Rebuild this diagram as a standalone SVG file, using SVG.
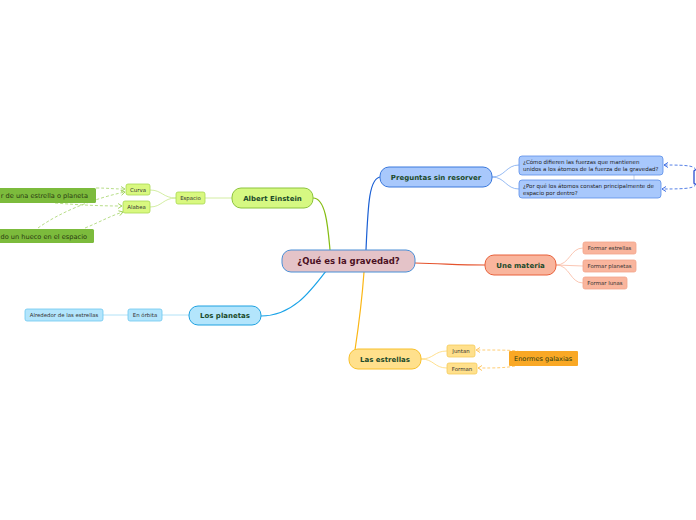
<svg xmlns="http://www.w3.org/2000/svg" width="696" height="520" viewBox="0 0 696 520">
<style>
text{font-family:"DejaVu Sans","Liberation Sans",sans-serif;}
.t1{font-size:8.5px;font-weight:bold;fill:#4a0f22;text-anchor:middle;}
.t2{font-size:7px;font-weight:bold;fill:#1b4a2a;text-anchor:middle;}
.s{font-size:5.4px;fill:#333;text-anchor:middle;}
.q{font-size:5.5px;fill:#222;}
.g{font-size:6.6px;fill:#2a3a10;}
.c{fill:none;stroke-width:1.2;}
.cl{fill:none;stroke-width:0.8;}
.d{fill:none;stroke-width:0.8;stroke-dasharray:3,2;}
</style>
<defs>
<marker id="ag" markerWidth="6" markerHeight="6" refX="5" refY="3" orient="auto" markerUnits="userSpaceOnUse"><path d="M1,0.5 L5,3 L1,5.5" fill="none" stroke="#9fd15a" stroke-width="0.9"/></marker>
<marker id="ab" markerWidth="6" markerHeight="6" refX="5" refY="3" orient="auto" markerUnits="userSpaceOnUse"><path d="M1,0.5 L5,3 L1,5.5" fill="none" stroke="#2a5fe0" stroke-width="0.9"/></marker>
<marker id="ao" markerWidth="6" markerHeight="6" refX="5" refY="3" orient="auto" markerUnits="userSpaceOnUse"><path d="M1,0.5 L5,3 L1,5.5" fill="none" stroke="#ffc050" stroke-width="0.9"/></marker>
</defs>
<rect width="696" height="520" fill="#ffffff"/>
<g id="connectors">
<path class="c" stroke="#85bd12" d="M313,198 C326,198 328,228 330,250"/>
<path class="c" stroke="#1a5fd4" d="M366,250 C368,205 369,177 381,177"/>
<path class="c" stroke="#e5532d" d="M415,263 C450,264 460,265 485,265"/>
<path class="c" stroke="#1aa3e8" d="M261,316 C292,316 310,292 326,271"/>
<path class="c" stroke="#fbb614" d="M364,272 C362,300 358,330 355,350"/>
<path class="cl" stroke="#c8e88c" d="M205,198 L232,198"/>
<path class="cl" stroke="#c8e88c" d="M176,198 C163,198 162,190 150,190"/>
<path class="cl" stroke="#c8e88c" d="M176,198 C163,198 162,207 150,207"/>
<path class="cl" stroke="#7aa8f0" d="M492,177 C505,177 506,165 519,165"/>
<path class="cl" stroke="#7aa8f0" d="M492,177 C505,177 506,189 519,189"/>
<path class="cl" stroke="#f9b8a0" d="M556,265 C570,265 570,248 583,248"/>
<path class="cl" stroke="#f9b8a0" d="M556,265 L583,266"/>
<path class="cl" stroke="#f9b8a0" d="M556,265 C570,265 570,283 583,283"/>
<path class="cl" stroke="#9fdaf5" d="M189,315 L162,315"/>
<path class="cl" stroke="#9fdaf5" d="M128,315 L103,315"/>
<path class="cl" stroke="#ffd873" d="M421,359 C434,359 434,351 447,351"/>
<path class="cl" stroke="#ffd873" d="M421,359 C434,359 434,368 447,368"/>
<path d="M634,175 L634,180" stroke="#9ab0d0" stroke-width="0.6" fill="none"/>
<path class="d" stroke="#a5d46a" marker-end="url(#ag)" d="M96,188 C108,188 112,189 125,189"/>
<path class="d" stroke="#a5d46a" marker-end="url(#ag)" d="M55,203 C80,205 100,206 122,206"/>
<path class="d" stroke="#a5d46a" marker-end="url(#ag)" d="M38,228 C60,212 95,198 125,192"/>
<path class="d" stroke="#a5d46a" marker-end="url(#ag)" d="M85,228 C100,222 110,216 123,212"/>
<path class="d" stroke="#2a5fe0" marker-end="url(#ab)" d="M696,170 C694,166 690,165 664,165"/>
<path class="d" stroke="#2a5fe0" marker-end="url(#ab)" d="M696,184 C694,188 690,189 662,189"/>
<path class="d" stroke="#ffc050" marker-end="url(#ao)" d="M520,352 C516,350 505,350 476,350"/>
<path class="d" stroke="#ffc050" marker-end="url(#ao)" d="M515,366 C505,368 495,368 478,368"/>
</g>
<g id="central"><rect x="282" y="250" width="133" height="22" rx="9" fill="#e4c3c8" stroke="#4a8fd6" stroke-width="1"/><text class="t1" x="348.5" y="264">¿Qué es la gravedad?</text></g>
<g id="einstein"><rect x="232" y="188" width="81" height="20" rx="9" fill="#d6f882" stroke="#8cc43c" stroke-width="1"/><text class="t2" x="272.5" y="200.5">Albert Einstein</text></g>
<g id="preguntas"><rect x="380" y="167" width="112" height="20" rx="9" fill="#a8c8fc" stroke="#3a78dc" stroke-width="1"/><text class="t2" x="436" y="179.5">Preguntas sin resorver</text></g>
<g id="une"><rect x="485" y="255" width="71" height="20" rx="9" fill="#f9b59d" stroke="#e8603a" stroke-width="1"/><text class="t2" x="520.5" y="267.5">Une materia</text></g>
<g id="planetas"><rect x="189" y="306" width="72" height="19" rx="9" fill="#b3e5fc" stroke="#1ea1e0" stroke-width="1"/><text class="t2" x="225" y="318">Los planetas</text></g>
<g id="estrellas"><rect x="349" y="349" width="72" height="20" rx="9" fill="#ffe08c" stroke="#f8c02a" stroke-width="1"/><text class="t2" x="385" y="361.5">Las estrellas</text></g>
<g id="espacio"><rect x="176" y="192" width="29" height="12" rx="2" fill="#d9f880" stroke="#a8d850" stroke-width="0.8"/><text class="s" x="190.5" y="200">Espacio</text></g>
<g id="curva"><rect x="126" y="184" width="24" height="11" rx="2" fill="#d9f880" stroke="#a8d850" stroke-width="0.8"/><text class="s" x="138" y="191.5">Curva</text></g>
<g id="alabea"><rect x="123" y="201" width="27" height="12" rx="2" fill="#d9f880" stroke="#a8d850" stroke-width="0.8"/><text class="s" x="136.5" y="209">Alabea</text></g>
<g id="g1"><rect x="-6" y="188" width="102" height="15" rx="1.5" fill="#7cbb3c"/><text class="g" x="88" y="198" text-anchor="end">r de una estrella o planeta</text></g>
<g id="g2"><rect x="-6" y="229" width="100" height="14" rx="1.5" fill="#7cbb3c"/><text class="g" x="87" y="238.7" text-anchor="end">do un hueco en el espacio</text></g>
<g id="q1"><rect x="519" y="156" width="144" height="19" rx="3" fill="#a8c8fc" stroke="#5a8ee8" stroke-width="0.8"/><text class="q" x="523" y="164">¿Cómo difieren las fuerzas que mantienen</text><text class="q" x="523" y="171.2">unidos a los átomos de la fuerza de la gravedad?</text></g>
<g id="q2"><rect x="519" y="180" width="142" height="18" rx="3" fill="#a8c8fc" stroke="#5a8ee8" stroke-width="0.8"/><text class="q" x="523" y="187.7">¿Por qué los átomos constan principalmente de</text><text class="q" x="523" y="194.8">espacio por dentro?</text></g>
<g id="offright"><rect x="694" y="170" width="4" height="14" rx="1" fill="#ffffff" stroke="#1a3fcc" stroke-width="1.2"/></g>
<g id="fe"><rect x="583" y="242" width="53" height="12" rx="2" fill="#f9b59d" stroke="#f2a58a" stroke-width="0.8"/><text class="s" x="609.5" y="250">Formar estrellas</text></g>
<g id="fp"><rect x="583" y="260" width="53" height="12" rx="2" fill="#f9b59d" stroke="#f2a58a" stroke-width="0.8"/><text class="s" x="609.5" y="268">Formar planetas</text></g>
<g id="fl"><rect x="583" y="277" width="44" height="12" rx="2" fill="#f9b59d" stroke="#f2a58a" stroke-width="0.8"/><text class="s" x="605" y="285">Formar lunas</text></g>
<g id="orbita"><rect x="128" y="309" width="34" height="12" rx="2" fill="#b3e5fc" stroke="#6dc8f0" stroke-width="0.8"/><text class="s" x="145" y="317">En órbita</text></g>
<g id="alrededor"><rect x="25" y="309" width="78" height="12" rx="2" fill="#b3e5fc" stroke="#6dc8f0" stroke-width="0.8"/><text class="s" x="64" y="317">Alrededor de las estrellas</text></g>
<g id="juntan"><rect x="447" y="345" width="28" height="12" rx="2" fill="#ffe08c" stroke="#f5cc5a" stroke-width="0.8"/><text class="s" x="461" y="353">Juntan</text></g>
<g id="forman"><rect x="447" y="363" width="30" height="11" rx="2" fill="#ffe08c" stroke="#f5cc5a" stroke-width="0.8"/><text class="s" x="462" y="370.5">Forman</text></g>
<g id="galaxias"><rect x="509" y="351" width="69" height="15" rx="1" fill="#f9a825"/><text class="g" x="514" y="361" fill="#5a3a00">Enormes galaxias</text></g>
</svg>
